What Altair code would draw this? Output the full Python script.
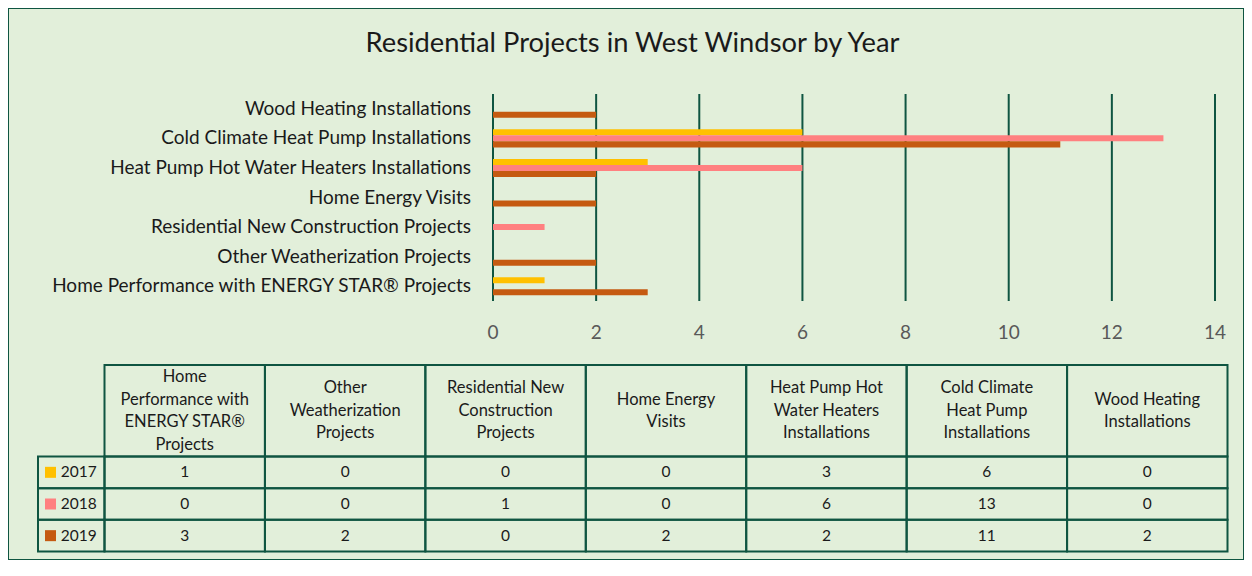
import altair as alt
import pandas as pd

title_text = "Residential Projects in West Windsor by Year"
categories = [
    "Home Performance with ENERGY STAR® Projects",
    "Other Weatherization Projects",
    "Residential New Construction Projects",
    "Home Energy Visits",
    "Heat Pump Hot Water Heaters Installations",
    "Cold Climate Heat Pump Installations",
    "Wood Heating Installations",
]
header_labels = [
    "Home\nPerformance with\nENERGY STAR®\nProjects",
    "Other\nWeatherization\nProjects",
    "Residential New\nConstruction\nProjects",
    "Home Energy\nVisits",
    "Heat Pump Hot\nWater Heaters\nInstallations",
    "Cold Climate\nHeat Pump\nInstallations",
    "Wood Heating\nInstallations",
]
years = ["2017", "2018", "2019"]
values_2017 = [1, 0, 0, 0, 3, 6, 0]
values_2018 = [0, 0, 1, 0, 6, 13, 0]
values_2019 = [3, 2, 0, 2, 2, 11, 2]
year_colors = ["#FFC000", "#FF8080", "#C55A11"]
x_ticks = [0, 2, 4, 6, 8, 10, 12, 14]

BG = "#E2EFDA"
GREEN = "#0F5541"
FONT = "Lato"
TXT = "#1A1A1A"
W, H = 1236, 552
HEADER_LH = 22.5

series = [values_2017, values_2018, values_2019]
rows = []
for yi, (yr, vals) in enumerate(zip(years, series)):
    for ci, (cat, v) in enumerate(zip(categories, vals)):
        rows.append({"category": cat, "year": yr, "value": v, "col": ci, "row": yi + 1})
long_df = pd.DataFrame(rows)

# ---------- bar chart part ----------
x_bar = alt.Scale(domain=[0, 14], range=[485, 1207], nice=False, zero=False)
y_bar = alt.Scale(domain=categories[::-1], range=[86, 293], paddingInner=0.39, paddingOuter=0.195)
color_scale = alt.Scale(domain=years, range=year_colors)

tick_df = pd.DataFrame({"tick": x_ticks})

grid = alt.Chart(tick_df).mark_rule(color=GREEN, strokeWidth=2).encode(
    x=alt.X("tick:Q", scale=x_bar, axis=None),
    y=alt.value(86),
    y2=alt.value(293),
)

bars = alt.Chart(long_df).transform_filter("datum.value > 0").mark_bar().encode(
    x=alt.X("value:Q", scale=x_bar, axis=None),
    y=alt.Y("category:N", scale=y_bar, axis=None),
    yOffset=alt.YOffset("year:N", scale=alt.Scale(domain=years, paddingInner=0, paddingOuter=0)),
    color=alt.Color("year:N", scale=color_scale, legend=None),
)

xlabels = alt.Chart(tick_df).mark_text(
    font=FONT, fontSize=19, color="#595959", baseline="middle"
).encode(
    x=alt.X("tick:Q", scale=x_bar, axis=None),
    y=alt.value(325),
    text="tick:Q",
)

ylabels = alt.Chart(pd.DataFrame({"category": categories})).mark_text(
    font=FONT, fontSize=19, color=TXT, align="right", baseline="middle"
).encode(
    y=alt.Y("category:N", scale=y_bar, axis=None),
    x=alt.value(463),
    text="category:N",
)

title = alt.Chart(pd.DataFrame({"t": [title_text]})).mark_text(
    font=FONT, fontSize=27.3, color=TXT, baseline="alphabetic", align="center"
).encode(x=alt.value(624.5), y=alt.value(44), text="t:N")

top = alt.layer(grid, bars, xlabels, ylabels)

# ---------- data table part ----------
x_tab = alt.Scale(domain=[-1, 0, 7], range=[30, 96.5, 1219.5], nice=False, zero=False)
y_tab = alt.Scale(domain=[0, 1, 4], range=[357, 448.5, 543.5], nice=False, zero=False)
header_px = 448.5 - 357

cell_rows = []
for ci in range(len(categories)):
    cell_rows.append({"x0": ci, "x1": ci + 1, "y0": 0, "y1": 1})
for ri in range(1, len(years) + 1):
    for ci in range(-1, len(categories)):
        cell_rows.append({"x0": ci, "x1": ci + 1, "y0": ri, "y1": ri + 1})
cells_df = pd.DataFrame(cell_rows)

cells = alt.Chart(cells_df).mark_rect(fillOpacity=0, stroke=GREEN, strokeWidth=2).encode(
    x=alt.X("x0:Q", scale=x_tab, axis=None),
    x2="x1:Q",
    y=alt.Y("y0:Q", scale=y_tab, axis=None),
    y2="y1:Q",
)

header_df = pd.DataFrame({"label": header_labels, "col": list(range(len(header_labels)))})
header = alt.Chart(header_df).transform_calculate(
    xc="datum.col + 0.5",
    nl="length(split(datum.label, '\\n'))",
).transform_calculate(
    yc=f"0.5 - (datum.nl - 1) * {HEADER_LH / 2 / header_px}",
).mark_text(
    font=FONT, fontSize=16.5, color=TXT, lineBreak="\n", lineHeight=HEADER_LH,
    align="center", baseline="middle",
).encode(
    x=alt.X("xc:Q", scale=x_tab, axis=None),
    y=alt.Y("yc:Q", scale=y_tab, axis=None),
    text="label:N",
)

vals = alt.Chart(long_df).transform_calculate(
    xc="datum.col + 0.5", yc="datum.row + 0.5"
).mark_text(font=FONT, fontSize=15.5, color=TXT, align="center", baseline="middle").encode(
    x=alt.X("xc:Q", scale=x_tab, axis=None),
    y=alt.Y("yc:Q", scale=y_tab, axis=None),
    text="value:Q",
)

year_df = pd.DataFrame({"year": years, "row": [1, 2, 3]})
swatch = alt.Chart(year_df).transform_calculate(
    hx="-1", yc="datum.row + 0.5"
).mark_square(size=121, opacity=1, xOffset=12.5).encode(
    x=alt.X("hx:Q", scale=x_tab, axis=None),
    y=alt.Y("yc:Q", scale=y_tab, axis=None),
    color=alt.Color("year:N", scale=color_scale, legend=None),
)
yeartext = alt.Chart(year_df).transform_calculate(
    hx="-1", yc="datum.row + 0.5"
).mark_text(font=FONT, fontSize=15.5, color=TXT, align="left", baseline="middle", dx=22.7).encode(
    x=alt.X("hx:Q", scale=x_tab, axis=None),
    y=alt.Y("yc:Q", scale=y_tab, axis=None),
    text="year:N",
)

table = alt.layer(cells, header, vals, swatch, yeartext)

chart = alt.layer(title, top, table).resolve_scale(
    x="independent", y="independent", color="independent"
).properties(
    width=W, height=H,
    autosize=alt.AutoSizeParams(type="none"),
    padding=0,
    background=BG,
).configure_view(stroke=GREEN, strokeWidth=2, fill=BG)

chart.save("out.html", embed_options={"renderer": "svg", "actions": False})
